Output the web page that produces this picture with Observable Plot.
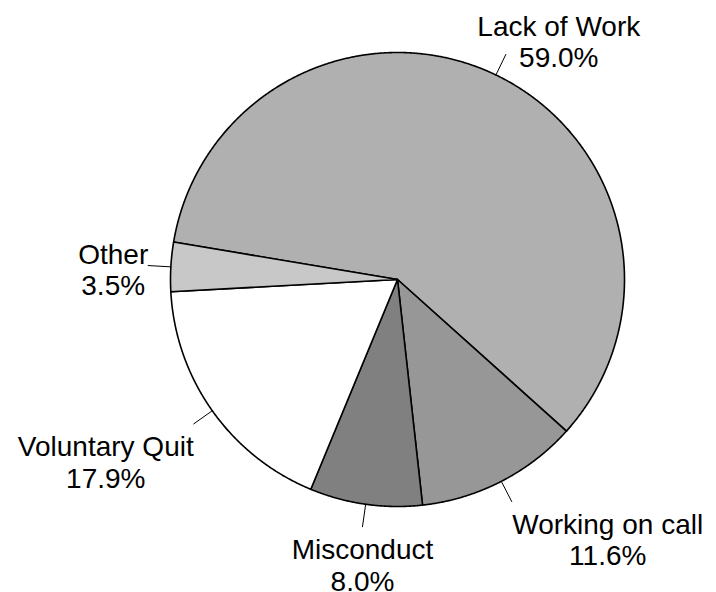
<!DOCTYPE html>
<html>
<head>
<meta charset="utf-8">
<script src="https://cdn.jsdelivr.net/npm/d3@7"></script>
<script src="https://cdn.jsdelivr.net/npm/@observablehq/plot@0.6"></script>
<style>
  html, body { margin: 0; padding: 0; background: #ffffff; }
  #chart svg { display: block; }
</style>
</head>
<body>
<div id="chart"></div>
<script>
// ---- data ----
const categories = ["Lack of Work", "Working on call", "Misconduct", "Voluntary Quit", "Other"];
const shares = [59.0, 11.6, 8.0, 17.9, 3.5];
const sliceColors = ["#b0b0b0", "#979797", "#808080", "#ffffff", "#c8c8c8"];

// ---- layout ----
const W = 716, H = 592;
const CX = 397, CY = 279, R = 227;          // pie centre and radius in pixels
const START = 279.5 * Math.PI / 180;        // first slice starts here (clockwise from 12 o'clock)
const LEADER_IN = 1.0, LEADER_OUT = 1.1;
// label block centre, relative to the outer end of its leader (pixels)
const labelNudge = {
  "Lack of Work": [53, -13],
  "Working on call": [96, 38],
  "Misconduct": [0, 38],
  "Voluntary Quit": [-88, 38],
  "Other": [-35, 4]
};

const pie = d3.pie().sort(null).startAngle(START).endAngle(START + 2 * Math.PI)(shares);
const slices = pie.map((p, i) => ({
  label: categories[i], value: shares[i], a0: p.startAngle, a1: p.endAngle,
  mid: (p.startAngle + p.endAngle) / 2
}));

// outline points of each wedge (centre + arc), in unit-radius data space
const wedgePts = [];
for (const s of slices) {
  wedgePts.push({label: s.label, x: 0, y: 0});
  const n = Math.max(2, Math.ceil((s.a1 - s.a0) / (0.25 * Math.PI / 180)));
  for (let k = 0; k <= n; k++) {
    const a = s.a0 + (s.a1 - s.a0) * k / n;
    wedgePts.push({label: s.label, x: Math.sin(a), y: Math.cos(a)});
  }
}

const leaders = slices.flatMap(s => [
  {label: s.label, x: LEADER_IN * Math.sin(s.mid), y: LEADER_IN * Math.cos(s.mid)},
  {label: s.label, x: LEADER_OUT * Math.sin(s.mid), y: LEADER_OUT * Math.cos(s.mid)}
]);

const textMarks = slices.map(s => Plot.text([s], {
  x: d => LEADER_OUT * Math.sin(d.mid),
  y: d => LEADER_OUT * Math.cos(d.mid),
  text: d => `${d.label}\n${d.value.toFixed(1)}%`,
  dx: labelNudge[s.label][0],
  dy: labelNudge[s.label][1],
  textAnchor: "middle",
  lineAnchor: "middle",
  lineHeight: 1.125,
  fontSize: 28,
  fontFamily: "'Liberation Sans', Arial, Helvetica, sans-serif",
  fill: "#000000"
}));

const chart = Plot.plot({
  width: W,
  height: H,
  margin: 0,
  style: {background: "#ffffff", overflow: "visible"},
  x: {domain: [-CX / R, (W - CX) / R], range: [0, W], axis: null},
  y: {domain: [-(H - CY) / R, CY / R], range: [H, 0], axis: null},
  color: {domain: categories, range: sliceColors},
  marks: [
    Plot.line(wedgePts, {
      x: "x", y: "y", z: "label", fill: "label",
      stroke: "#000000", strokeWidth: 1.6, strokeLinejoin: "round",
      curve: "linear-closed"
    }),
    Plot.line(leaders, {x: "x", y: "y", z: "label", stroke: "#000000", strokeWidth: 1}),
    ...textMarks
  ]
});
document.getElementById("chart").appendChild(chart);
</script>
</body>
</html>
